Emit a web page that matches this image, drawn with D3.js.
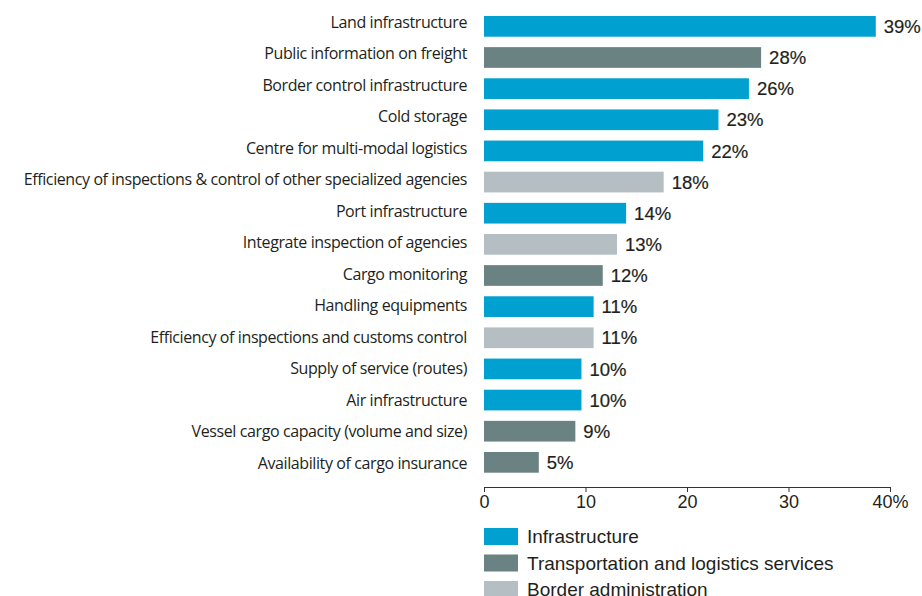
<!DOCTYPE html>
<html>
<head>
<meta charset="utf-8">
<script src="https://cdn.jsdelivr.net/npm/d3@7"></script>
<style>
  body { margin: 0; background: #fff; }
  text { fill: #231f20; }
</style>
</head>
<body>
<script>
// chart data
const categories = [
  "Land infrastructure",
  "Public information on freight",
  "Border control infrastructure",
  "Cold storage",
  "Centre for multi-modal logistics",
  "Efficiency of inspections & control of other specialized agencies",
  "Port infrastructure",
  "Integrate inspection of agencies",
  "Cargo monitoring",
  "Handling equipments",
  "Efficiency of inspections and customs control",
  "Supply of service (routes)",
  "Air infrastructure",
  "Vessel cargo capacity (volume and size)",
  "Availability of cargo insurance"
];
const values = [38.6, 27.3, 26.1, 23.1, 21.6, 17.7, 14.0, 13.1, 11.7, 10.8, 10.8, 9.6, 9.6, 9.0, 5.4];
const valueLabels = ["39%", "28%", "26%", "23%", "22%", "18%", "14%", "13%", "12%", "11%", "11%", "10%", "10%", "9%", "5%"];
const groups = [0, 1, 0, 0, 0, 2, 0, 2, 1, 0, 2, 0, 0, 1, 1];
const groupNames = ["Infrastructure", "Transportation and logistics services", "Border administration"];
const groupColors = ["#00a1d0", "#6b8282", "#b4bec3"];
const ticks = [0, 10, 20, 30, 40];

let width = 922,
  height = 596;

const svg = d3.select("body")
  .append("svg")
  .attr("width", width)
  .attr("height", height);

const x = d3.scaleLinear().domain([0, 40]).range([484, 890]);
const y = d3.scaleBand().domain(categories).range([16, 472.7]).paddingInner(0.335).paddingOuter(0);
// the category labels sit on a slightly wider pitch than the bars
const yLabel = d3.scalePoint().domain(categories).range([22, 463]);
const color = d3.scaleOrdinal().domain([0, 1, 2]).range(groupColors);

const rows = categories.map((c, i) => ({ cat: c, v: values[i], label: valueLabels[i], g: groups[i] }));

// bars
svg.append("g")
  .selectAll("rect")
  .data(rows)
  .join("rect")
  .attr("x", x(0))
  .attr("y", d => y(d.cat))
  .attr("width", d => x(d.v) - x(0))
  .attr("height", y.bandwidth())
  .attr("fill", d => color(d.g));

// category labels
svg.append("g")
  .selectAll("text")
  .data(rows)
  .join("text")
  .attr("x", 467)
  .attr("y", d => yLabel(d.cat))
  .attr("dy", "0.35em")
  .attr("text-anchor", "end")
  .style("font-family", "'Open Sans', sans-serif")
  .style("font-size", "16px")
  .style("letter-spacing", "-0.4px")
  .text(d => d.cat);

// value labels (medium weight: thin stroke on regular)
svg.append("g")
  .selectAll("text")
  .data(rows)
  .join("text")
  .attr("x", d => x(d.v) + 8)
  .attr("y", d => y(d.cat) + y.bandwidth() / 2)
  .attr("dy", "0.36em")
  .style("font-family", "'Liberation Sans', Arial, sans-serif")
  .style("font-size", "18.5px")
  .style("stroke", "#231f20")
  .style("stroke-width", "0.2px")
  .text(d => d.label);

// x axis
const axis = svg.append("g")
  .attr("transform", "translate(0,487)")
  .call(d3.axisBottom(x)
    .tickValues(ticks)
    .tickSize(5)
    .tickSizeOuter(0)
    .tickFormat(d => d === 40 ? "40%" : d));
axis.selectAll("path, line").attr("stroke", "#333");
axis.selectAll("text")
  .style("font-family", "'Liberation Sans', Arial, sans-serif")
  .style("font-size", "18px")
  .attr("fill", "#231f20");

// legend
const legend = svg.append("g")
  .selectAll("g")
  .data(groupNames)
  .join("g")
  .attr("transform", (d, i) => `translate(484,${528 + i * 26.5})`);
legend.append("rect")
  .attr("width", 34)
  .attr("height", 17)
  .attr("fill", (d, i) => groupColors[i]);
legend.append("text")
  .attr("x", 43)
  .attr("y", 8.5)
  .attr("dy", "0.36em")
  .style("font-family", "'Liberation Sans', Arial, sans-serif")
  .style("font-size", "19px")
  .text(d => d);
</script>
</body>
</html>
